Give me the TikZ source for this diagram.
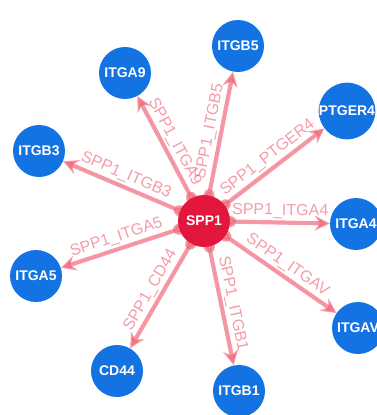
\documentclass[tikz,border=0pt]{standalone}
\usepackage{fontspec}
\setmainfont{Liberation Sans}
\usetikzlibrary{arrows.meta,backgrounds}

\definecolor{genblue}{HTML}{1373E3}
\definecolor{ligred}{HTML}{E3173E}
\definecolor{edgepink}{HTML}{EE5A6E}

\begin{document}
\begin{tikzpicture}[x=1pt, y=-1pt,
    receptor/.style={circle, fill=genblue, minimum size=52pt, inner sep=0pt, text=white, font=\fontsize{14}{14}\selectfont\bfseries},
    ligand/.style={receptor, fill=ligred},
    lr/.style={draw=edgepink, fill=edgepink, opacity=0.62, line width=4.2pt, {Circle[length=11pt]}-{Stealth[length=15pt,width=15pt,inset=5pt]}, shorten <=-5pt},
    lrlabel/.style={sloped, above, inner sep=2pt, text=edgepink, text opacity=0.6, font=\fontsize{16}{16}\selectfont}]
                    \useasboundingbox (0,0) rectangle (376,415);
                    \node[ligand] (SPP1) at (204,221) {SPP1};
                    \node[receptor] (ITGB5) at (238,46) {ITGB5};
                    \node[receptor] (ITGA9) at (125,73) {ITGA9};
                    \node[receptor] (PTGER4) at (347,111) {PTGER4};
                    \node[receptor] (ITGB3) at (39,151) {ITGB3};
                    \node[receptor] (ITGA4) at (356,224) {ITGA4};
                    \node[receptor] (ITGA5) at (36,276) {ITGA5};
                    \node[receptor] (ITGAV) at (358,328) {ITGAV};
                    \node[receptor] (CD44) at (117,371) {CD44};
                    \node[receptor] (ITGB1) at (239,391) {ITGB1};
                    % edges go below the nodes
                    \begin{scope}[on background layer]
                    \draw[lr] (SPP1) -- node[lrlabel] {SPP1\_ITGB5} (ITGB5);
                    \draw[lr] (SPP1) -- node[lrlabel] {SPP1\_ITGA9} (ITGA9);
                    \draw[lr] (SPP1) -- node[lrlabel] {SPP1\_PTGER4} (PTGER4);
                    \draw[lr] (SPP1) -- node[lrlabel] {SPP1\_ITGB3} (ITGB3);
                    \draw[lr] (SPP1) -- node[lrlabel] {SPP1\_ITGA4} (ITGA4);
                    \draw[lr] (SPP1) -- node[lrlabel] {SPP1\_ITGA5} (ITGA5);
                    \draw[lr] (SPP1) -- node[lrlabel] {SPP1\_ITGAV} (ITGAV);
                    \draw[lr] (SPP1) -- node[lrlabel] {SPP1\_CD44} (CD44);
                    \draw[lr] (SPP1) -- node[lrlabel] {SPP1\_ITGB1} (ITGB1);
                    \end{scope}
                \end{tikzpicture}
\end{document}
